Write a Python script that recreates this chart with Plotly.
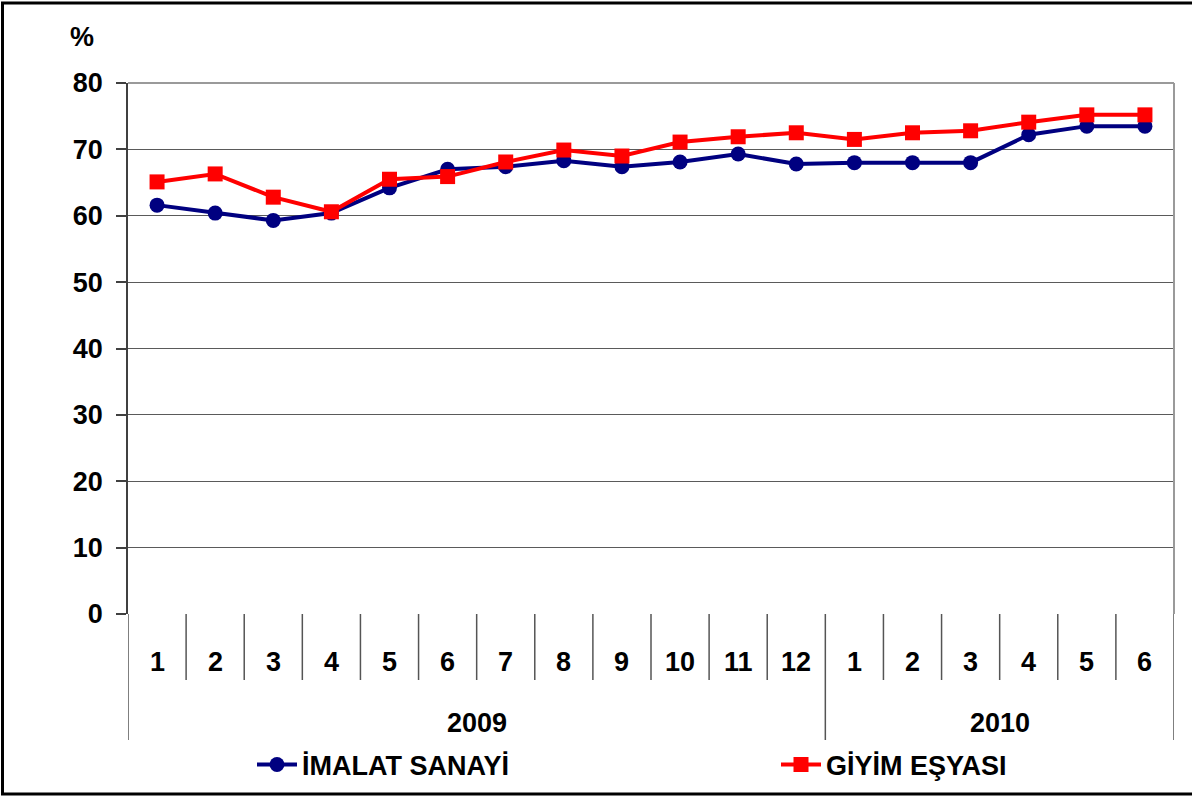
import plotly.graph_objects as go

months = ["1", "2", "3", "4", "5", "6", "7", "8", "9", "10", "11", "12", "1", "2", "3", "4", "5", "6"]
years = ["2009", "2010"]
year_counts = [12, 6]
imalat = [61.6, 60.4, 59.3, 60.4, 64.2, 67.0, 67.4, 68.3, 67.4, 68.1, 69.3, 67.8, 68.0, 68.0, 68.0, 72.2, 73.5, 73.5]
giyim = [65.1, 66.3, 62.8, 60.6, 65.5, 65.9, 68.1, 69.9, 69.0, 71.1, 71.9, 72.5, 71.5, 72.5, 72.8, 74.1, 75.2, 75.2]
yticks = [0, 10, 20, 30, 40, 50, 60, 70, 80]

W, H = 1192, 796
L, R, T, B = 128, 18, 83, 182
PW, PH = W - L - R, H - T - B

def px(xpix):
    return (xpix - L) / PW

def py(ypix):
    return (H - B - ypix) / PH

FONT = "Liberation Sans, Arial, sans-serif"
xs = list(range(len(months)))

fig = go.Figure()
fig.add_trace(go.Scatter(
    x=xs, y=imalat, mode="lines+markers", name="İMALAT SANAYİ",
    line=dict(color="#000080", width=4),
    marker=dict(symbol="circle", size=15, color="#000080"),
    legend="legend",
))
fig.add_trace(go.Scatter(
    x=xs, y=giyim, mode="lines+markers", name="GİYİM EŞYASI",
    line=dict(color="#FF0000", width=4),
    marker=dict(symbol="square", size=15, color="#FF0000"),
    legend="legend2",
))

shapes = []
# frame top & right
shapes.append(dict(type="line", xref="paper", yref="paper", x0=0, x1=1, y0=1, y1=1,
                   line=dict(color="#9a9a9a", width=2)))
shapes.append(dict(type="line", xref="paper", yref="paper", x0=1, x1=1, y0=0, y1=1,
                   line=dict(color="#9a9a9a", width=2)))
# month separators
boundaries = set()
acc = 0
for c in year_counts:
    boundaries.add(acc)
    acc += c
boundaries.add(acc)
for k in range(1, len(months)):
    if k in boundaries:
        continue
    shapes.append(dict(type="line", xref="x", yref="paper", x0=k - 0.5, x1=k - 0.5,
                       y0=0, y1=py(680), line=dict(color="#555555", width=1.5)))
for k in sorted(boundaries):
    shapes.append(dict(type="line", xref="x", yref="paper", x0=k - 0.5, x1=k - 0.5,
                       y0=0, y1=py(740), line=dict(color="#555555", width=1.5)))
# outer border
shapes.append(dict(type="rect", xref="paper", yref="paper",
                   x0=px(2.5), x1=px(1196), y0=py(3), y1=py(794),
                   line=dict(color="black", width=3), fillcolor="rgba(0,0,0,0)", layer="below"))

annotations = []
for i, m in enumerate(months):
    annotations.append(dict(x=i, y=py(662), xref="x", yref="paper", text=m, showarrow=False,
                            font=dict(family=FONT, size=27, color="black", weight="bold"),
                            xanchor="center", yanchor="middle"))
acc = 0
for yname, c in zip(years, year_counts):
    annotations.append(dict(x=acc + (c - 1) / 2, y=py(723), xref="x", yref="paper", text=yname,
                            showarrow=False,
                            font=dict(family=FONT, size=27, color="black", weight="bold"),
                            xanchor="center", yanchor="middle"))
    acc += c
annotations.append(dict(x=px(82), y=py(37), xref="paper", yref="paper", text="%", showarrow=False,
                        font=dict(family=FONT, size=27, color="black", weight="bold"),
                        xanchor="center", yanchor="middle"))

legfont = dict(family=FONT, size=27, color="black", weight="bold")
fig.update_layout(
    width=W, height=H,
    margin=dict(l=L, r=R, t=T, b=B, autoexpand=False),
    paper_bgcolor="white", plot_bgcolor="white",
    showlegend=True,
    xaxis=dict(range=[-0.5, len(months) - 0.5], showticklabels=False, showgrid=False,
               zeroline=False, showline=False, ticks="", automargin=False),
    yaxis=dict(range=[0, 80], tickvals=yticks, showgrid=True, gridcolor="#5a5a5a", gridwidth=1,
               zeroline=False, showline=True, linecolor="#404040", linewidth=1.5,
               ticks="outside", ticklen=10, tickcolor="#404040", tickwidth=1.5,
               ticklabelstandoff=8, automargin=False,
               tickfont=dict(family=FONT, size=27, color="black", weight="bold")),
    shapes=shapes,
    annotations=annotations,
    legend=dict(x=px(252), y=py(765), xanchor="left", yanchor="middle", font=legfont,
                bgcolor="rgba(0,0,0,0)", itemwidth=40),
    legend2=dict(x=px(776), y=py(765), xanchor="left", yanchor="middle", font=legfont,
                 bgcolor="rgba(0,0,0,0)", itemwidth=40),
)

fig.write_html("out.html", config={"displayModeBar": False},
               post_script="document.body.style.margin='0';")
